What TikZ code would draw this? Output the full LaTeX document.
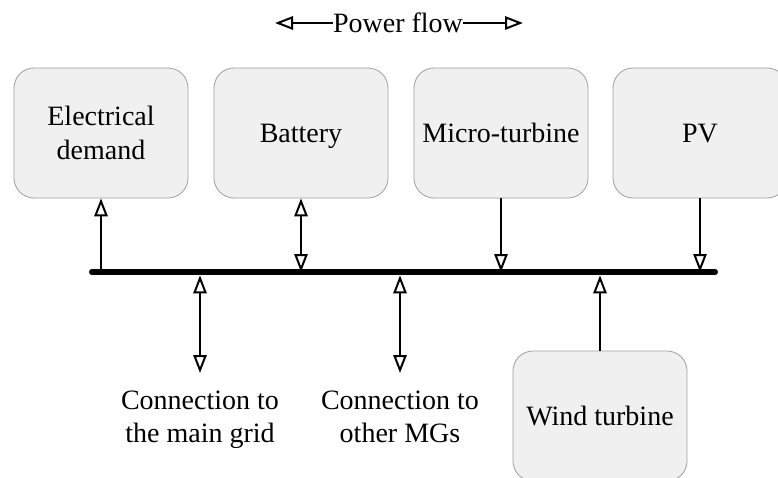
\documentclass[tikz,border=0pt]{standalone}
\usepackage{fontspec}
\setmainfont{Liberation Serif}
\usetikzlibrary{arrows.meta}

\tikzset{
  unit/.style={draw=gray!75, line width=0.6pt, fill=gray!12, rounded corners=15pt,
    minimum width=130.5pt, minimum height=97.5pt, align=center},
  oneline/.style={unit, text depth=-1pt},
  flow/.style={line width=1.5pt, -{Triangle[open,length=13.5pt,width=10pt]}},
  biflow/.style={line width=1.5pt, {Triangle[open,length=13.5pt,width=10pt]}-{Triangle[open,length=13.5pt,width=10pt]}},
  label/.style={align=center, inner sep=0pt}
}

\begin{document}
\begin{tikzpicture}[x=0.75pt,y=-0.75pt,font=\fontsize{21}{25}\selectfont]
    \useasboundingbox (0,0) rectangle (778,478);

    % Legend
    \node[inner sep=0pt] (pf) at (398,23) {Power flow};
    \coordinate (pfl) at (275,23);
    \coordinate (pfr) at (523,23);
    \draw[flow] (pf.west) -- (pfl);
    \draw[flow] (pf.east) -- (pfr);

    % Units above the bus
    \node[unit] (demand)  at (101,133) {Electrical\\demand};
    \node[oneline] (battery) at (301,133) {Battery};
    \node[oneline] (mt)      at (501,133) {Micro-turbine};
    \node[oneline] (pv)      at (700,133) {PV};

    % Unit below the bus
    \node[unit] (wind) at (600,416) {Wind turbine};

    % Bus
    \coordinate (busl) at (92,272);
    \coordinate (busr) at (715,272);

    % Connections
    \node[label] (grid) at (200,420) {Connection to\\the main grid};
    \node[label] (mgs)  at (400,417) {Connection to\\other MGs};
    \coordinate (gridend) at (200,373);
    \coordinate (mgsend)  at (400,373);

    \draw[flow] (demand.south |- busl) -- (demand.south);
    \draw[biflow] (battery.south) -- (battery.south |- busl);
    \draw[flow] (mt.south) -- (mt.south |- busl);
    \draw[flow] (pv.south) -- (pv.south |- busl);
    \draw[flow] (wind.north) -- ([yshift=-2.5pt]wind.north |- busl);
    \draw[biflow] ([yshift=-2.5pt]gridend |- busl) -- (gridend);
    \draw[biflow] ([yshift=-2.5pt]mgsend |- busl) -- (mgsend);

    \draw[line width=4.5pt, line cap=round] (busl) -- (busr);
\end{tikzpicture}
\end{document}
